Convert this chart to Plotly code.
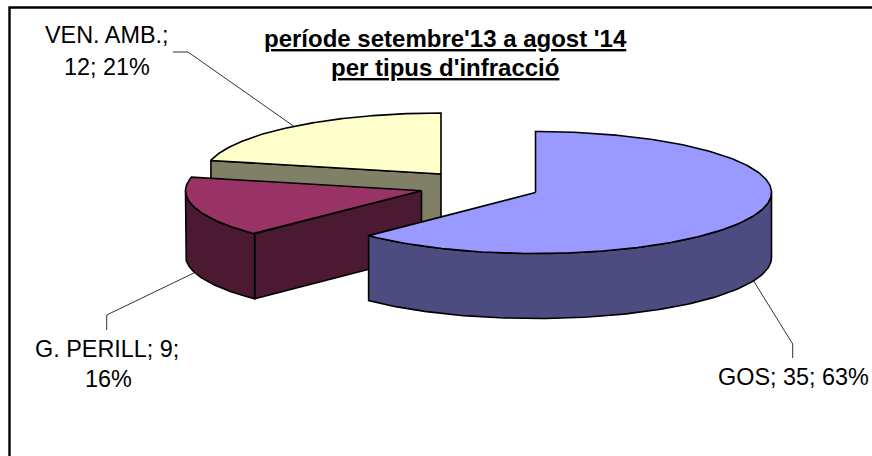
import numpy as np
import plotly.graph_objects as go

# --- data ---
categories = ["GOS", "G. PERILL", "VEN. AMB."]
counts = [35, 9, 12]
percent_labels = ["63%", "16%", "21%"]

# --- styling / geometry of the fake-3D exploded pie (pixels) ---
top_colors = ["#9999FF", "#993366", "#FFFFCC"]
side_colors = ["#4C4C80", "#4C1933", "#808066"]
slice_centres = [(535.5, 192.5), (421.5, 190.7), (441.0, 174.0)]
RX, RY, DEPTH = 236.0, 61.0, 65.0
EDGE = dict(color="black", width=1.6)
LEADER = dict(color="#333333", width=1)
FONT = "Liberation Sans, Arial, sans-serif"

total = sum(counts)
fractions = [c / total for c in counts]
starts = np.cumsum([0.0] + fractions[:-1]) * 2 * np.pi
ends = np.cumsum(fractions) * 2 * np.pi


def rim(cx, cy, angle):
    """Project a pie angle (clockwise from the back) to the top-face ellipse."""
    return cx + RX * np.sin(angle), cy - RY * np.cos(angle)


def poly(fig, xs, ys, color):
    fig.add_trace(go.Scatter(x=list(xs), y=list(ys), mode="lines", fill="toself",
                             fillcolor=color, line=EDGE, hoverinfo="skip",
                             showlegend=False))


def radial_wall(fig, cx, cy, angle, color):
    x, y = rim(cx, cy, angle)
    poly(fig, [cx, x, x, cx, cx], [cy, y, y + DEPTH, cy + DEPTH, cy], color)


def outer_wall(fig, cx, cy, a0, a1, color):
    lo, hi = max(a0, np.pi / 2), min(a1, 3 * np.pi / 2)
    if lo >= hi:
        return
    t = np.linspace(lo, hi, 120)
    x, y = rim(cx, cy, t)
    poly(fig, np.r_[x, x[::-1], x[0]], np.r_[y, y[::-1] + DEPTH, y[0]], color)


def top_face(fig, cx, cy, a0, a1, color):
    t = np.linspace(a0, a1, 240)
    x, y = rim(cx, cy, t)
    poly(fig, np.r_[cx, x, cx], np.r_[cy, y, cy], color)


fig = go.Figure()

# leader lines: from the elbow near the label to the mid-angle of each slice
elbows = [((792.7, 358), (792.7, 344)), ((106.7, 330), (106.7, 315)), ((173, 52), (188, 52))]
for i, (p0, p1) in enumerate(elbows):
    mid = (starts[i] + ends[i]) / 2
    ax, ay = rim(*slice_centres[i], mid)
    if np.cos(mid) < 0:
        ay += DEPTH
    fig.add_trace(go.Scatter(x=[p0[0], p1[0], ax], y=[p0[1], p1[1], ay], mode="lines",
                             line=LEADER, hoverinfo="skip", showlegend=False))

# painter's order: back slice first, front slices last
for i in [2, 1, 0]:
    cx, cy = slice_centres[i]
    a0, a1 = starts[i], ends[i]
    if i in (1, 2):
        radial_wall(fig, cx, cy, a0, side_colors[i])
    outer_wall(fig, cx, cy, a0, a1, side_colors[i])
    top_face(fig, cx, cy, a0, a1, top_colors[i])

# frame (open at right and bottom, as cropped in the reference)
fig.add_shape(type="rect", x0=9.5, y0=7.5, x1=900, y1=500,
              line=dict(color="black", width=2.4), layer="below")


def label(text, x, y, size=23.4, bold=False):
    fig.add_annotation(x=x, y=y, text=f"<b>{text}</b>" if bold else text, showarrow=False,
                       xanchor="center", yanchor="middle",
                       font=dict(family=FONT, size=size, color="black"))


label(f"{categories[2]};", 106.5, 35)
label(f"{counts[2]}; {percent_labels[2]}", 107, 67)
label(f"{categories[1]}; {counts[1]};", 107, 349)
label(percent_labels[1], 108, 379)
label(f"{categories[0]}; {counts[0]}; {percent_labels[0]}", 793, 377)
label("<u>període setembre'13 a agost '14</u>", 445, 38, size=24, bold=True)
label("<u>per tipus d'infracció</u>", 445, 67, size=24, bold=True)

fig.update_layout(
    width=872, height=456, margin=dict(l=0, r=0, t=0, b=0),
    paper_bgcolor="white", plot_bgcolor="white", showlegend=False,
    xaxis=dict(range=[0, 872], visible=False, fixedrange=True),
    yaxis=dict(range=[456, 0], visible=False, fixedrange=True),
)
fig.write_html("out.html", config={"displayModeBar": False},
               post_script="document.body.style.margin='0';document.body.style.overflow='hidden';")
